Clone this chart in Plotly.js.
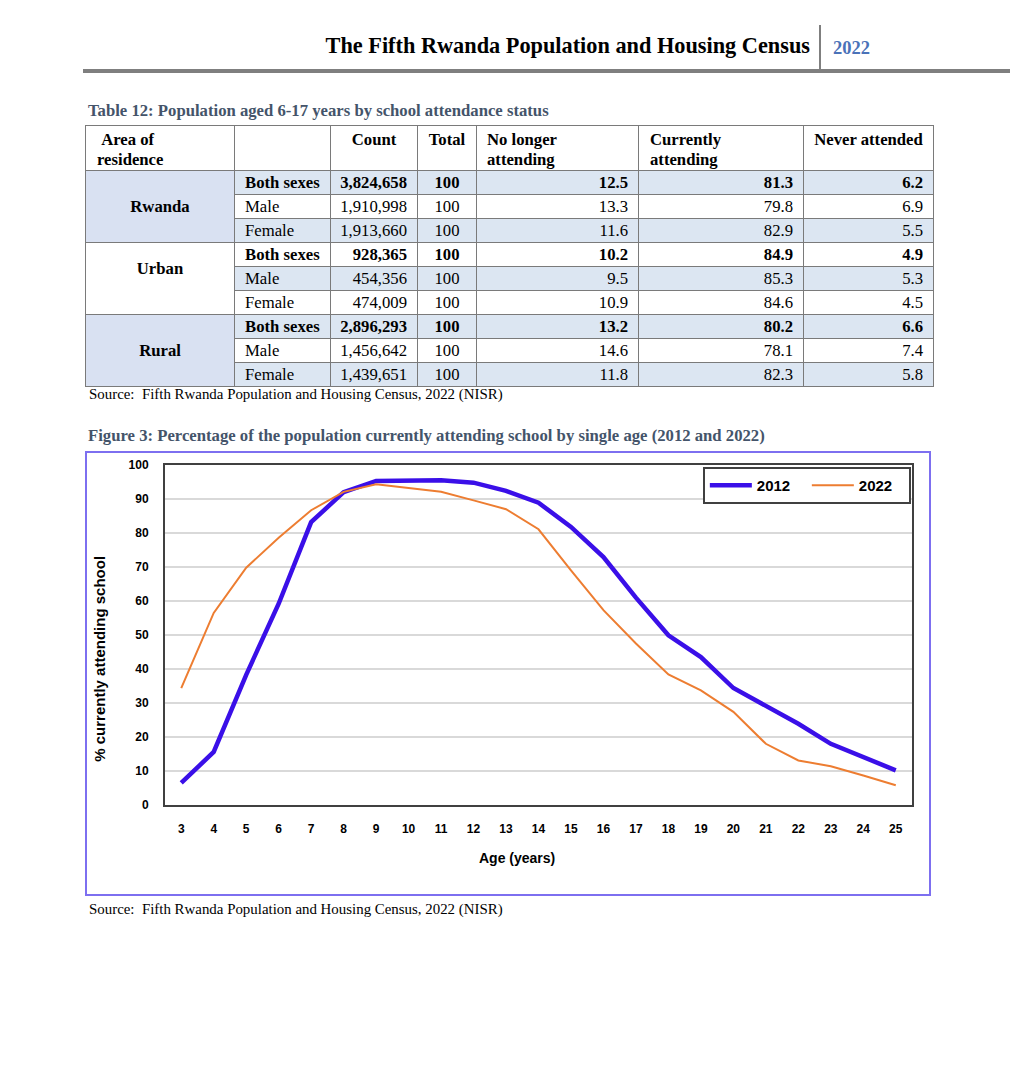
<!DOCTYPE html>
<html>
<head>
<meta charset="utf-8">
<script src="https://cdn.plot.ly/plotly-3.0.1.min.js"></script>
<style>
  html, body { margin: 0; padding: 0; background: #ffffff; }
  body { width: 1010px; height: 1080px; position: relative; overflow: hidden; font-family: "Liberation Serif", "Times New Roman", serif; }
  .abs { position: absolute; }
  #hdrTitle { right: 200px; top: 33px; font-size: 22.3px; font-weight: bold; color: #000; white-space: nowrap; }
  #hdrYear { left: 833px; top: 38px; font-size: 18.5px; font-weight: bold; color: #4a72b8; }
  #hdrBar { left: 819px; top: 25px; width: 2px; height: 47px; background: #7f7f7f; }
  #hdrLine { left: 83px; top: 69px; width: 927px; height: 4px; background: #7f7f7f; }
  .caption { font-size: 16.7px; font-weight: bold; color: #44546a; white-space: nowrap; }
  .source { font-size: 14.9px; color: #000; white-space: nowrap; }
  table#tbl { position: absolute; left: 85px; top: 125px; border-collapse: collapse; table-layout: fixed; width: 848px; font-size: 16.7px; }
  #tbl td, #tbl th { border: 1.5px solid #7a7a7a; padding: 0; overflow: hidden; white-space: nowrap; line-height: 20px; }
  #tbl th { height: 45px; vertical-align: top; padding-top: 4px; font-weight: bold; text-align: left; box-sizing: border-box; }
  #tbl td { height: 24px; vertical-align: middle; box-sizing: border-box; }
  .shade { background: #dce6f2; }
  .areaShade { background: #d9e1f2; }
  .num { text-align: right; padding-right: 10px !important; }
  .ctr { text-align: center; }
  .b { font-weight: bold; }
  #figBox { left: 85px; top: 451px; width: 842px; height: 441px; border: 2px solid #7d6ff0; }
  #chart { left: 85px; top: 451px; width: 846px; height: 445px; }
</style>
</head>
<body>
<div id="hdrTitle" class="abs">The Fifth Rwanda Population and Housing Census</div>
<div id="hdrBar" class="abs"></div>
<div id="hdrYear" class="abs">2022</div>
<div id="hdrLine" class="abs"></div>

<div class="abs caption" style="left:88px; top:101px;">Table 12: Population aged 6-17 years by school attendance status</div>
<table id="tbl"></table>
<div class="abs source" style="left:89px; top:386px;">Source:&nbsp; Fifth Rwanda Population and Housing Census, 2022 (NISR)</div>

<div class="abs caption" style="left:88px; top:426px;">Figure 3: Percentage of the population currently attending school by single age (2012 and 2022)</div>
<div id="figBox" class="abs"></div>
<div id="chart" class="abs"></div>
<div class="abs source" style="left:89px; top:901px;">Source:&nbsp; Fifth Rwanda Population and Housing Census, 2022 (NISR)</div>

<script>
// ---------- Table data ----------
const tableHeaders = ["Area of<br>residence", "", "Count", "Total", "No longer<br>attending", "Currently<br>attending", "Never attended"];
const areas = ["Rwanda", "Urban", "Rural"];
const sexes = ["Both sexes", "Male", "Female"];
const counts = [3824658, 1910998, 1913660, 928365, 454356, 474009, 2896293, 1456642, 1439651];
const totals = [100, 100, 100, 100, 100, 100, 100, 100, 100];
const noLonger = [12.5, 13.3, 11.6, 10.2, 9.5, 10.9, 13.2, 14.6, 11.8];
const currently = [81.3, 79.8, 82.9, 84.9, 85.3, 84.6, 80.2, 78.1, 82.3];
const neverAtt = [6.2, 6.9, 5.5, 4.9, 5.3, 4.5, 6.6, 7.4, 5.8];

// ---------- Chart data ----------
const ages = [3, 4, 5, 6, 7, 8, 9, 10, 11, 12, 13, 14, 15, 16, 17, 18, 19, 20, 21, 22, 23, 24, 25];
const pct2012 = [6.5, 15.6, 38.3, 59.2, 83.2, 92.0, 95.3, 95.5, 95.5, 94.8, 92.4, 88.9, 81.8, 72.9, 61.0, 49.9, 43.5, 34.4, 29.0, 23.9, 18.0, 14.1, 10.2];
const pct2022 = [34.4, 56.5, 69.8, 78.6, 86.7, 92.1, 94.3, 93.2, 92.1, 89.6, 87.0, 81.1, 69.0, 57.3, 47.5, 38.4, 33.7, 27.4, 18.0, 13.1, 11.4, 8.7, 5.8];
const yTicks = [0, 10, 20, 30, 40, 50, 60, 70, 80, 90, 100];

// ---------- Build table ----------
(function buildTable() {
  const tbl = document.getElementById("tbl");
  const widths = [149, 96, 87, 59, 162, 165, 130];
  let html = "<colgroup>" + widths.map(w => `<col style="width:${w}px">`).join("") + "</colgroup>";
  const hAlign = ["left", "left", "center", "center", "left", "left", "center"];
  const hPad = [11, 0, 0, 0, 10, 11, 0];
  html += "<tr>" + tableHeaders.map((h, i) =>
    `<th style="text-align:${hAlign[i]};padding-left:${hPad[i]}px">${i === 0 ? "&nbsp;" + h : h}</th>`).join("") + "</tr>";
  const fmt = n => n.toLocaleString("en-US");
  for (let a = 0; a < areas.length; a++) {
    for (let s = 0; s < sexes.length; s++) {
      const r = a * 3 + s;
      const shade = (r % 2 === 0) ? "shade" : "";
      const bold = (s === 0) ? "b" : "";
      html += "<tr>";
      if (s === 0) {
        const aShade = (a === 1) ? "" : "areaShade";
        const extra = (a === 1) ? "padding-bottom:20px;" : "";
        html += `<td rowspan="3" class="${aShade} ctr b" style="${extra}">${areas[a]}</td>`;
      }
      html += `<td class="${shade} ${bold}" style="padding-left:10px">${sexes[s]}</td>`;
      html += `<td class="${shade} ${bold} num">${fmt(counts[r])}</td>`;
      html += `<td class="${shade} ${bold} ctr">${totals[r]}</td>`;
      html += `<td class="${shade} ${bold} num">${noLonger[r].toFixed(1)}</td>`;
      html += `<td class="${shade} ${bold} num">${currently[r].toFixed(1)}</td>`;
      html += `<td class="${shade} ${bold} num">${neverAtt[r].toFixed(1)}</td>`;
      html += "</tr>";
    }
  }
  tbl.innerHTML = html;
})();

// ---------- Chart ----------
const chartFont = { family: "Liberation Sans, Arial, sans-serif", color: "#000000", weight: 700 };

const traces = [
  { x: ages, y: pct2012, type: "scatter", mode: "lines", name: "2012",
    line: { color: "#3a0fe8", width: 4.5 } },
  { x: ages, y: pct2022, type: "scatter", mode: "lines", name: "2022",
    line: { color: "#ed7d31", width: 2 } }
];

const layout = {
  width: 846, height: 445,
  margin: { l: 80, r: 19, t: 14, b: 91, autoexpand: false },
  paper_bgcolor: "rgba(0,0,0,0)",
  plot_bgcolor: "#ffffff",
  font: Object.assign({ size: 12 }, chartFont),
  showlegend: true,
  legend: {
    orientation: "h", x: 0.72, y: 0.994, xanchor: "left", yanchor: "top",
    bgcolor: "#ffffff", bordercolor: "#404040", borderwidth: 2,
    font: Object.assign({ size: 15 }, chartFont),
    itemwidth: 42,
    entrywidth: 45, entrywidthmode: "pixels"
  },
  xaxis: {
    range: [2.5, 25.5], tickmode: "array", tickvals: ages, ticktext: ages.map(String),
    showgrid: false, zeroline: false,
    showline: true, mirror: true, linecolor: "#404040", linewidth: 2,
    ticks: "outside", ticklen: 12, tickcolor: "rgba(0,0,0,0)",
    tickfont: Object.assign({ size: 12 }, chartFont), fixedrange: true
  },
  yaxis: {
    range: [0, 100], tickmode: "array", tickvals: yTicks, ticktext: yTicks.map(String),
    showgrid: true, gridcolor: "#d9d9d9", gridwidth: 1.5, zeroline: false,
    showline: true, mirror: true, linecolor: "#404040", linewidth: 2,
    ticks: "outside", ticklen: 12, tickcolor: "rgba(0,0,0,0)",
    tickfont: Object.assign({ size: 12 }, chartFont), fixedrange: true
  },
  annotations: [
    { text: "Age (years)", xref: "paper", yref: "paper", x: 0.471, y: 0, xanchor: "center", yanchor: "middle",
      yshift: -53, showarrow: false, font: Object.assign({ size: 14 }, chartFont) },
    { text: "% currently attending school", xref: "paper", yref: "paper", x: 0, y: 0.43, xanchor: "center", yanchor: "middle",
      xshift: -65, textangle: -90, showarrow: false, font: Object.assign({ size: 15 }, chartFont) }
  ]
};

Plotly.newPlot("chart", traces, layout, { displayModeBar: false, staticPlot: true });
</script>
</body>
</html>
